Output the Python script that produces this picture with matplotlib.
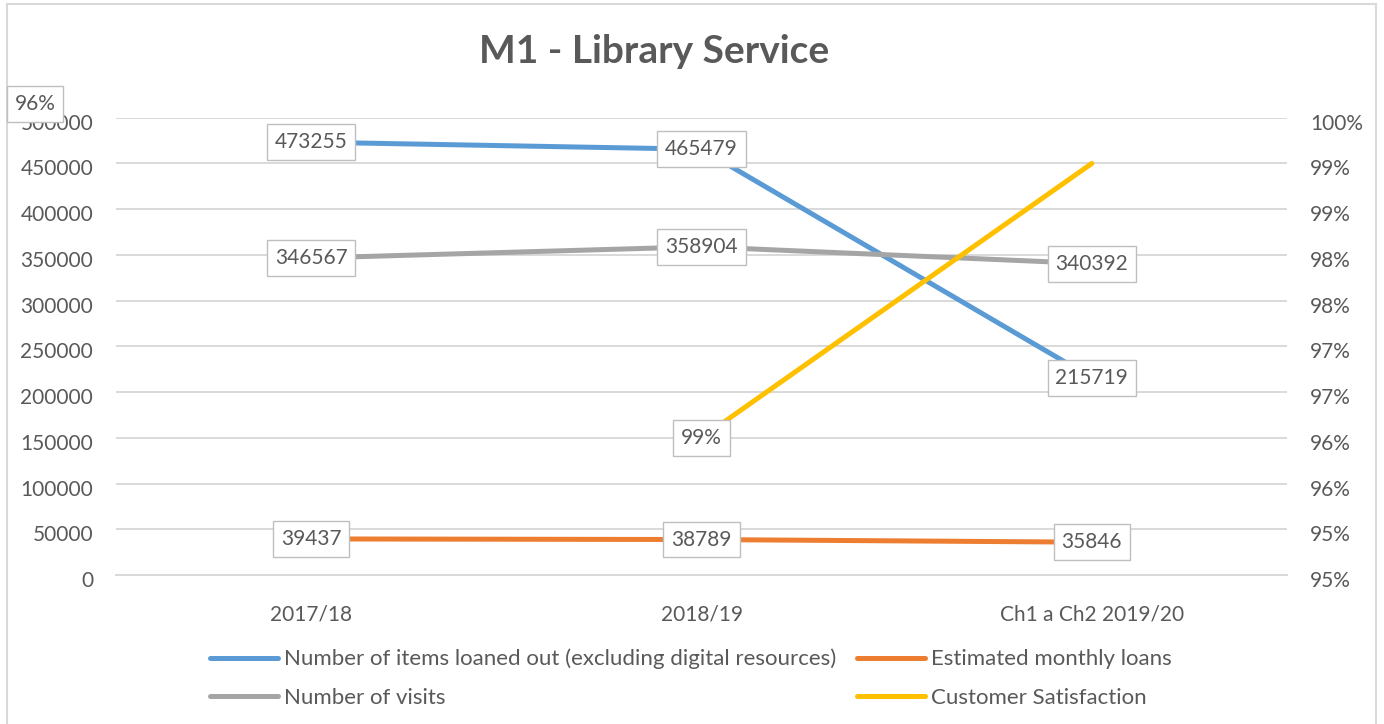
import matplotlib
matplotlib.use("Agg")
import matplotlib.pyplot as plt
import numpy as np
from matplotlib.lines import Line2D
from matplotlib.patches import Rectangle
from matplotlib.ticker import FuncFormatter, MultipleLocator
from matplotlib.transforms import ScaledTranslation

plt.rcParams['font.family'] = ['Lato', 'DejaVu Sans']

categories = ["2017/18", "2018/19", "Ch1 a Ch2 2019/20"]
items_loaned = [473255, 465479, 215719]
monthly_loans = [39437, 38789, 35846]
visits = [346567, 358904, 340392]
satisfaction = [np.nan, 96.0, 99.0]
satisfaction_labels = ["96%", "99%"]

names = ["Number of items loaned out (excluding digital resources)",
         "Estimated monthly loans",
         "Number of visits",
         "Customer Satisfaction"]
colors = ["#5B9BD5", "#ED7D31", "#A5A5A5", "#FFC000"]

TXT = "#595959"
GRID = "#D9D9D9"
W, H = 1384, 724
fig = plt.figure(figsize=(W / 100, H / 100), dpi=100)

ax = fig.add_axes([116 / W, 1 - 575 / H, (1287 - 116) / W, (575 - 117.7) / H])
ax2 = ax.twinx()

x = np.arange(len(categories))
lw = 3.6
ax.plot(x, items_loaned, color=colors[0], lw=lw, solid_capstyle='round', zorder=3)
ax.plot(x, monthly_loans, color=colors[1], lw=lw, solid_capstyle='round', zorder=3)
ax.plot(x, visits, color=colors[2], lw=lw, solid_capstyle='round', zorder=3)
ax2.plot(x, satisfaction, color=colors[3], lw=lw, solid_capstyle='round', zorder=3)

ax.set_xlim(-0.5, len(categories) - 0.5)
ax.set_ylim(0, 500000)
ax.yaxis.set_major_locator(MultipleLocator(50000))
ax2.set_ylim(94.5, 99.5)
ax2.yaxis.set_major_locator(MultipleLocator(0.5))
ax2.yaxis.set_major_formatter(FuncFormatter(lambda v, p: f"{int(np.floor(v + 0.5 + 1e-9))}%"))

ax.grid(axis='y', color=GRID, lw=1.4, zorder=0)
ax.set_axisbelow(True)
for a in (ax, ax2):
    for s in a.spines.values():
        s.set_visible(False)
    a.tick_params(length=0, labelsize=15, labelcolor=TXT)
ax.spines['bottom'].set_visible(True)
ax.spines['bottom'].set_color(GRID)
ax.spines['bottom'].set_linewidth(1.4)
ax.set_xticks(x)
ax.set_xticklabels(categories)
ax.tick_params(axis='x', pad=21)
ax.tick_params(axis='y', pad=16.5)
ax2.tick_params(axis='y', pad=16.5)

shift = ScaledTranslation(0, -4 / 100, fig.dpi_scale_trans)
for a in (ax, ax2):
    for lab in a.get_yticklabels():
        lab.set_transform(lab.get_transform() + shift)

box = dict(boxstyle='square,pad=0.38', fc='white', ec='#BFBFBF', lw=1)
for series in (items_loaned, monthly_loans, visits):
    for xi, v in zip(x, series):
        ax2.text(xi, v, f"{v}", transform=ax.transData, ha='center', va='center',
                 fontsize=15, color=TXT, bbox=box, zorder=10)
# Customer satisfaction labels
ax2.text(x[1], satisfaction[1], satisfaction_labels[1], ha='center', va='center',
         fontsize=15, color=TXT, bbox=box, zorder=10)
fig.text(35 / W, 1 - 104 / H, satisfaction_labels[0], ha='center', va='center',
         fontsize=15, color=TXT, bbox=box, zorder=10)

fig.text(654 / W, 1 - 63 / H, "M1 - Library Service", ha='center', va='baseline',
         fontsize=28, fontweight='bold', color=TXT)

handles = [Line2D([], [], color=c, lw=lw, solid_capstyle='round') for c in colors]
order = [0, 2, 1, 3]
leg = fig.legend([handles[i] for i in order], [names[i] for i in order], ncol=2,
                 loc='center left', bbox_to_anchor=(210 / W, 1 - 678.5 / H),
                 frameon=False, fontsize=16, labelcolor=TXT, borderpad=0,
                 borderaxespad=0, handlelength=3.06, handletextpad=0.27,
                 columnspacing=0.95, labelspacing=0.84)

fig.patches.append(Rectangle((7 / W, -0.02), (1376 - 7) / W, (H - 4) / H + 0.02,
                             transform=fig.transFigure, fill=False, ec=GRID, lw=1.5))

fig.savefig("out.png", dpi=100, facecolor='white')
